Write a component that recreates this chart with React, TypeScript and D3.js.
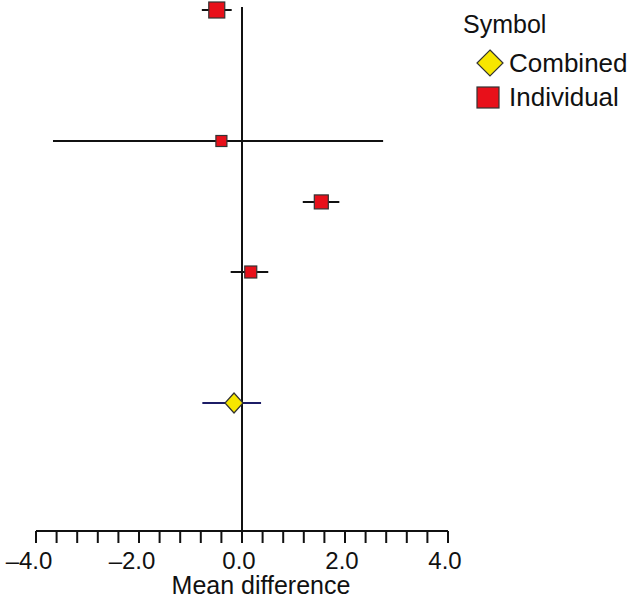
import React, { useEffect, useRef } from 'react';
import * as d3 from 'd3';

// study rows, top to bottom
const studies = ['Study 1', 'Study 2', 'Study 3', 'Study 4'];
const studyMean = [-0.49, -0.4, 1.54, 0.17];
const studyLow = [-0.78, -3.67, 1.18, -0.22];
const studyHigh = [-0.2, 2.74, 1.89, 0.51];
const studyWeight = [16, 11, 14, 12];
const studyRow = [0, 2, 2.93, 4];

const combinedMean = -0.155;
const combinedLow = -0.77;
const combinedHigh = 0.37;
const combinedRow = 6;

const tickValues = d3.range(-4, 4.001, 0.4);
const labelValues = [-4, -2, 0, 2, 4];

const width = 629;
const height = 600;
const font = 'Arial, "Liberation Sans", Helvetica, sans-serif';
const red = '#e8101a';
const yellow = '#f7e600';
const ink = '#111';

const App = () => {
  const svgRef = useRef<SVGSVGElement>(null);

  useEffect(() => {
    const svg = d3.select(svgRef.current);
    svg.selectAll('*').remove();

    const x = d3.scaleLinear().domain([-4, 4]).range([36, 448]);
    const y = d3.scaleLinear().domain([0, 6]).range([10, 403]);
    const axisY = 531;

    // zero line
    svg.append('line')
      .attr('x1', x(0)).attr('x2', x(0))
      .attr('y1', 7).attr('y2', axisY)
      .attr('stroke', ink).attr('stroke-width', 2);

    // x axis
    const axis = svg.append('g');
    axis.append('line')
      .attr('x1', x(-4)).attr('x2', x(4))
      .attr('y1', axisY).attr('y2', axisY)
      .attr('stroke', ink).attr('stroke-width', 2);
    axis.selectAll('.tick')
      .data(tickValues)
      .enter()
      .append('line')
      .attr('x1', d => x(d)).attr('x2', d => x(d))
      .attr('y1', axisY).attr('y2', axisY + 12)
      .attr('stroke', ink).attr('stroke-width', 2);
    axis.selectAll('.lbl')
      .data(labelValues)
      .enter()
      .append('text')
      .attr('x', d => x(d) + (d < 0 ? -7 : -3))
      .attr('y', 569)
      .attr('text-anchor', 'middle')
      .attr('font-family', font)
      .attr('font-size', 24)
      .attr('fill', ink)
      .text(d => (d < 0 ? '\u2013' : '') + Math.abs(d).toFixed(1));

    svg.append('text')
      .attr('x', 261).attr('y', 594)
      .attr('text-anchor', 'middle')
      .attr('font-family', font)
      .attr('font-size', 25)
      .attr('fill', ink)
      .text('Mean difference');

    // individual studies
    const size = d3.scaleLinear().domain([11, 16]).range([11, 16]);
    studies.forEach((s, i) => {
      const cy = y(studyRow[i]);
      svg.append('line')
        .attr('x1', x(studyLow[i])).attr('x2', x(studyHigh[i]))
        .attr('y1', cy).attr('y2', cy)
        .attr('stroke', ink).attr('stroke-width', 2);
      const w = size(studyWeight[i]);
      svg.append('rect')
        .attr('x', x(studyMean[i]) - w / 2)
        .attr('y', cy - w / 2)
        .attr('width', w).attr('height', w)
        .attr('fill', red)
        .attr('stroke', '#333').attr('stroke-width', 1.2);
    });

    // combined
    const cy = y(combinedRow);
    svg.append('line')
      .attr('x1', x(combinedLow)).attr('x2', x(combinedHigh))
      .attr('y1', cy).attr('y2', cy)
      .attr('stroke', '#1c1c66').attr('stroke-width', 2);
    const cx = x(combinedMean);
    svg.append('path')
      .attr('d', `M${cx},${cy - 10}L${cx + 9},${cy}L${cx},${cy + 10}L${cx - 9},${cy}Z`)
      .attr('fill', yellow)
      .attr('stroke', '#333').attr('stroke-width', 1.2);

    // legend
    const lg = svg.append('g');
    lg.append('text')
      .attr('x', 463).attr('y', 33)
      .attr('font-family', font).attr('font-size', 25).attr('fill', ink)
      .text('Symbol');
    lg.append('path')
      .attr('d', 'M490,50L503,63L490,76L477,63Z')
      .attr('fill', yellow)
      .attr('stroke', '#333').attr('stroke-width', 1.2);
    lg.append('text')
      .attr('x', 509).attr('y', 72)
      .attr('font-family', font).attr('font-size', 26).attr('fill', ink)
      .text('Combined');
    lg.append('rect')
      .attr('x', 477).attr('y', 87)
      .attr('width', 22).attr('height', 21)
      .attr('fill', red)
      .attr('stroke', '#333').attr('stroke-width', 1.2);
    lg.append('text')
      .attr('x', 509).attr('y', 106)
      .attr('font-family', font).attr('font-size', 26).attr('fill', ink)
      .text('Individual');
  }, []);

  return (
    <svg
      ref={svgRef}
      width={width}
      height={height}
      style={{ position: 'absolute', left: 0, top: 0, background: '#fff' }}
    />
  );
};

export default App;
